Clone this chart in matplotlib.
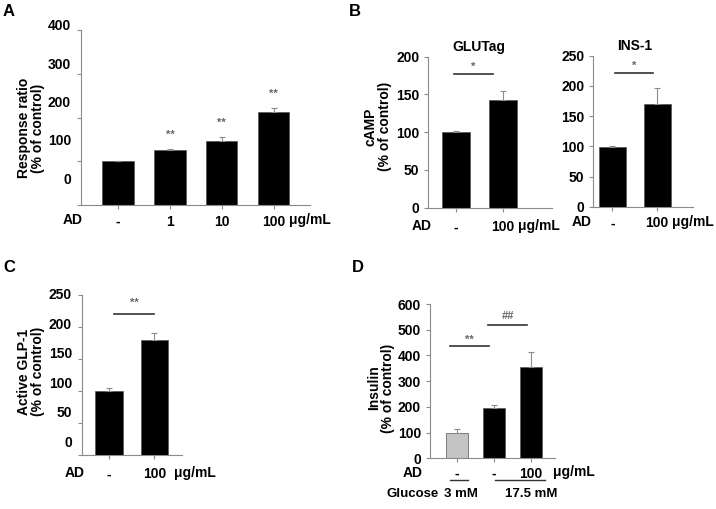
import numpy as np
import matplotlib
matplotlib.use('Agg')
import matplotlib.pyplot as plt

plt.rcParams["font.family"] = ["Liberation Sans", "DejaVu Sans"]
plt.rcParams["font.weight"] = "bold"
plt.rcParams["font.size"] = 10

# Panel A: response ratio
a_labels = ["-", "1", "10", "100"]
a_vals = [100, 126, 147, 212]
a_err = [1, 3, 9, 10]
a_stars = ["", "**", "**", "**"]
a_star_y = [0, 160, 188, 255]

# Panel B: cAMP
glutag_labels = ["-", "100"]
glutag_vals = [100, 143]
glutag_err = [1, 11]
ins1_labels = ["-", "100"]
ins1_vals = [99, 170]
ins1_err = [1, 26]

# Panel C: active GLP-1
c_labels = ["-", "100"]
c_vals = [100, 180]
c_err = [4, 11]

# Panel D: insulin
d_labels = ["-", "-", "100"]
d_vals = [100, 195, 355]
d_err = [13, 14, 57]
d_colors = ["#c4c4c4", "k", "k"]

SPINE = "#8a8a8a"
ERR = "#8c8c8c"
SIG = "#333333"
STAR = "#666666"

fig = plt.figure(figsize=(7.16, 5.09), dpi=100)


def style_axes(ax, xlim, ytop, ybound, yticks, labels):
    ax.set_xlim(*xlim)
    ax.set_ylim(0, ytop)
    for s in ["top", "right"]:
        ax.spines[s].set_visible(False)
    for s in ["left", "bottom"]:
        ax.spines[s].set_color(SPINE)
        ax.spines[s].set_linewidth(0.8)
    ax.spines["left"].set_bounds(0, ybound)
    ax.set_yticks(yticks, labels=[str(v) for v in yticks], fontweight="bold")
    ax.set_xticks(range(len(labels)), labels=labels, fontweight="bold")
    ax.tick_params(axis="both", colors=SPINE, length=3, width=0.8,
                   labelcolor="k", labelsize=10)
    ax.tick_params(axis="x", pad=4)


def bars(ax, vals, err, colors="k"):
    x = np.arange(len(vals))
    ax.bar(x, vals, width=0.6, color=colors, edgecolor="#555555", linewidth=0.5)
    ax.errorbar(x, vals, yerr=[np.zeros(len(vals)), err], fmt="none",
                ecolor=ERR, elinewidth=0.8, capsize=2, capthick=0.8)


def xnote(ax, x, text, dy, size=10):
    ax.annotate(text, xy=(x, 0), xycoords=("data", "axes fraction"),
                xytext=(0, dy), textcoords="offset points",
                ha="center", va="center", fontweight="bold", fontsize=size,
                annotation_clip=False)


def sig(ax, x0, x1, y, text, ty):
    ax.plot([x0, x1], [y, y], color=SIG, lw=1.2, clip_on=False)
    ax.text((x0 + x1) / 2, ty, text, ha="center", va="center",
            color=STAR, fontsize=8)


def shifted_labels(ax, a, b, ticks):
    # tick labels drawn slightly off the tick marks, as in the source image
    ax.set_yticklabels([])
    sec = ax.secondary_yaxis("left", functions=(lambda m: (m - a) / b,
                                                lambda s: a + b * s))
    sec.set_yticks(ticks, labels=[str(v) for v in ticks], fontweight="bold")
    sec.spines["left"].set_visible(False)
    sec.tick_params(length=0, labelsize=10, pad=7)
    return sec


# ---- A ----
axA = fig.add_axes([0.1127, 0.5972, 0.3203, 0.3568])
bars(axA, a_vals, a_err)
style_axes(axA, (-0.72, 3.7), 415, 400, [0, 100, 200, 300, 400], a_labels)
shifted_labels(axA, 61, 0.876, [0, 100, 200, 300, 400])
for i, s in enumerate(a_stars):
    if s:
        axA.text(i, a_star_y[i], s, ha="center", va="center", color=STAR, fontsize=8)
axA.set_ylabel("Response ratio\n(% of control)", fontweight="bold", linespacing=1.0)
axA.yaxis.set_label_coords(-0.156, 0.424)
xnote(axA, -0.87, "AD", -10.8)
xnote(axA, 3.7, "μg/mL", -10.8)

# ---- B GLUTag ----
axB1 = fig.add_axes([0.5982, 0.5919, 0.1723, 0.2967])
bars(axB1, glutag_vals, glutag_err)
style_axes(axB1, (-0.6, 2.05), 200, 200, [0, 50, 100, 150, 200], glutag_labels)
axB1.tick_params(axis="x", pad=6)
sig(axB1, -0.05, 0.78, 177, "*", 186)
axB1.set_title("GLUTag", fontweight="bold", fontsize=10, x=0.41, pad=4)
axB1.set_ylabel("cAMP\n(% of control)", fontweight="bold", linespacing=1.0)
axB1.yaxis.set_label_coords(-0.295, 0.536)
xnote(axB1, -0.74, "AD", -13.2)
xnote(axB1, 1.78, "μg/mL", -13.2)

# ---- B INS-1 ----
axB2 = fig.add_axes([0.8286, 0.5939, 0.1392, 0.2967])
bars(axB2, ins1_vals, ins1_err)
style_axes(axB2, (-0.43, 1.8), 250, 250, [0, 50, 100, 150, 200, 250], ins1_labels)
sig(axB2, 0.05, 0.9, 221, "*", 234)
axB2.set_title("INS-1", fontweight="bold", fontsize=10, x=0.42, pad=4)
xnote(axB2, -0.69, "AD", -10.8)
xnote(axB2, 1.8, "μg/mL", -10.8)

# ---- C ----
axC = fig.add_axes([0.1141, 0.1061, 0.1397, 0.3244])
bars(axC, c_vals, c_err)
style_axes(axC, (-0.6, 1.6), 258, 250, [0, 50, 100, 150, 200, 250], c_labels)
axC.tick_params(axis="x", pad=6)
shifted_labels(axC, 21, 0.926, [0, 50, 100, 150, 200, 250])
sig(axC, 0.11, 0.99, 220, "**", 237)
axC.set_ylabel("Active GLP-1\n(% of control)", fontweight="bold", linespacing=1.0)
axC.yaxis.set_label_coords(-0.367, 0.505)
xnote(axC, -0.75, "AD", -13.2)
xnote(axC, 1.88, "μg/mL", -13.2)

# ---- D ----
axD = fig.add_axes([0.6006, 0.0996, 0.1746, 0.3031])
bars(axD, d_vals, d_err, colors=d_colors)
style_axes(axD, (-0.72, 2.64), 600, 600, [0, 100, 200, 300, 400, 500, 600], d_labels)
axD.tick_params(axis="x", pad=3)
sig(axD, -0.18, 0.87, 437, "**", 462)
sig(axD, 0.85, 1.88, 519, "##", 553)
axD.set_ylabel("Insulin\n(% of control)", fontweight="bold", linespacing=1.0)
axD.yaxis.set_label_coords(-0.28, 0.456)
xnote(axD, -1.2, "AD", -10.3)
xnote(axD, 3.15, "μg/mL", -9.6)
xnote(axD, -1.2, "Glucose", -26, size=9.5)
xnote(axD, 0.1, "3 mM", -26, size=9.5)
xnote(axD, 2.01, "17.5 mM", -26, size=9.5)
for x0, x1 in [(-0.18, 0.31), (1.03, 2.37)]:
    axD.plot([x0, x1], [-0.14, -0.14], color=SIG, lw=1.0,
             transform=axD.get_xaxis_transform(), clip_on=False)

# panel letters
for x, y, s in [(9, 12, "A"), (355, 12, "B"), (9, 267, "C"), (358, 267, "D")]:
    fig.text(x / 716, 1 - y / 509, s, ha="center", va="center",
             fontsize=12, fontweight="bold")

fig.savefig("out.png", dpi=100)
